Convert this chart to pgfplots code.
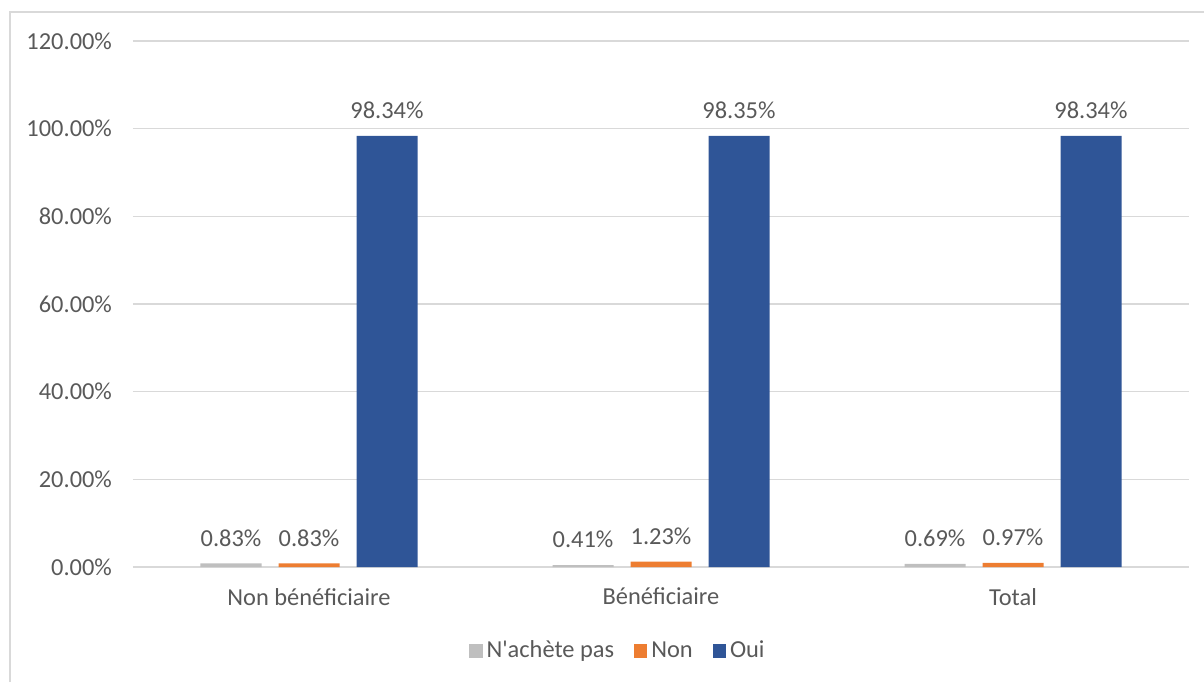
\documentclass[border=0pt]{standalone}
\usepackage{pgfplots}
\pgfplotsset{compat=1.18}
\usepackage{fontspec}
\setmainfont{Carlito}
\definecolor{txtgray}{HTML}{595959}
\definecolor{gridgray}{HTML}{D9D9D9}
\definecolor{sgray}{HTML}{BFBFBF}
\definecolor{sorange}{HTML}{ED7D31}
\definecolor{sblue}{HTML}{2F5597}
\begin{document}
\begin{tikzpicture}[x=1pt,y=1pt]
\path[use as bounding box] (0,0) rectangle (602,341);
\draw[gridgray, line width=0.8pt] (5,0) -- (5,335) -- (602,335);
\begin{axis}[
  at={(66.5pt,57.5pt)}, anchor=south west,
  scale only axis, width=528pt, height=263pt,
  ybar=8.5pt, bar width=30.5pt,
  xmin=-0.5, xmax=2.5, ymin=0, ymax=120,
  xtick={0,1,2},
  xticklabels={Non bénéficiaire, Bénéficiaire, Total},
  ytick={0,20,...,120},
  yticklabel={\pgfmathprintnumber[fixed,fixed zerofill,precision=2]{\tick}\%},
  /pgf/number format/assume math mode=true,
  ymajorgrids, grid style={gridgray, line width=0.6pt},
  axis x line*=bottom, axis y line*=left,
  x axis line style={gridgray, line width=0.8pt, -},
  y axis line style={draw=none},
  major tick length=0pt,
  tick label style={font=\fontsize{12.2}{14}\selectfont, text=txtgray},
  yticklabel style={xshift=-7pt},
  xticklabel style={yshift=-7pt},
  nodes near coords={\pgfmathprintnumber[fixed,fixed zerofill,precision=2]{\pgfplotspointmeta}\%},
  nodes near coords style={font=\fontsize{12.2}{14}\selectfont, text=txtgray, yshift=5pt},
  legend style={at={(0.4602,-0.1597)}, anchor=center, draw=none, fill=none,
    font=\fontsize{12.2}{14}\selectfont, text=txtgray,
    legend columns=3, /tikz/every even column/.append style={column sep=8pt}},
  legend cell align=left,
  legend image code/.code={\fill[#1] (0pt,-3.3pt) rectangle (6.6pt,3.3pt);},
]
\addplot[fill=sgray, draw=none] coordinates {(0,0.83) (1,0.41) (2,0.69)};
\addplot[fill=sorange, draw=none] coordinates {(0,0.83) (1,1.23) (2,0.97)};
\addplot[fill=sblue, draw=none] coordinates {(0,98.34) (1,98.35) (2,98.34)};
\legend{N\textquotesingle achète pas, Non, Oui}
\end{axis}
\end{tikzpicture}
\end{document}
